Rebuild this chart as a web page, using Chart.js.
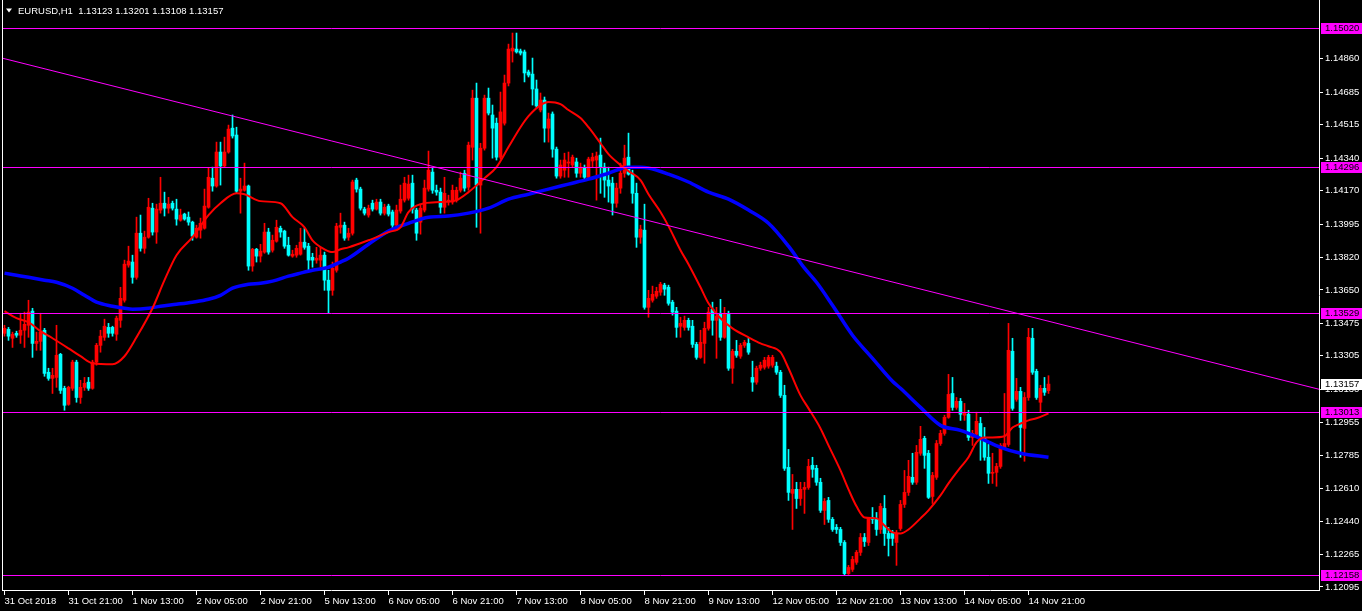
<!DOCTYPE html>
<html><head><meta charset="utf-8">
<script src="https://cdn.jsdelivr.net/npm/chart.js@4.4.1/dist/chart.umd.min.js"></script>
<style>html,body{margin:0;padding:0;background:#000;overflow:hidden}</style>
</head><body>
<canvas id="c" width="1362" height="611"></canvas>
<script>
const symbolTitle = 'EURUSD,H1';
const barOpen = [
1.13423,1.13444,1.13397,1.13423,1.13413,1.13439,1.13465,1.13539,1.13370,1.13381,
1.13439,1.13219,1.13187,1.13192,1.13313,1.13135,1.13051,1.13135,1.13272,1.13087,
1.13140,1.13167,1.13135,1.13272,1.13360,1.13402,1.13454,1.13454,1.13418,1.13491,
1.13596,1.13780,1.13796,1.13716,1.13947,1.13868,1.13926,1.14078,1.13953,1.14068,
1.14104,1.14078,1.14104,1.14073,1.14015,1.14047,1.14031,1.14005,1.13926,1.13963,
1.13973,1.14083,1.14235,1.14194,1.14372,1.14299,1.14372,1.14497,1.14461,1.14167,
1.14172,1.14194,1.13775,1.13863,1.13827,1.13848,1.13953,1.13858,1.13905,1.13973,
1.13958,1.13884,1.13827,1.13832,1.13837,1.13900,1.13879,1.13821,1.13806,1.13806,
1.13832,1.13701,1.13648,1.13753,1.13978,1.13989,1.13926,1.13947,1.14225,1.14178,
1.14073,1.14042,1.14104,1.14073,1.14110,1.14052,1.14089,1.14058,1.13989,1.14063,
1.14120,1.14130,1.14209,1.14068,1.14005,1.14068,1.14178,1.14267,1.14172,1.14162,
1.14083,1.14110,1.14110,1.14120,1.14172,1.14261,1.14188,1.14397,1.14654,1.14199,
1.14392,1.14654,1.14566,1.14523,1.14345,1.14523,1.14733,1.14901,1.14911,1.14901,
1.14896,1.14791,1.14780,1.14702,1.14592,1.14644,1.14497,1.14571,1.14387,1.14246,
1.14277,1.14314,1.14304,1.14320,1.14261,1.14288,1.14240,1.14325,1.14330,1.14356,
1.14293,1.14225,1.14209,1.14104,1.14183,1.14261,1.14345,1.14256,1.14156,1.13926,
1.13963,1.13559,1.13596,1.13617,1.13638,1.13675,1.13664,1.13586,1.13539,1.13460,
1.13454,1.13491,1.13460,1.13365,1.13297,1.13370,1.13449,1.13549,1.13491,1.13528,
1.13402,1.13528,1.13240,1.13329,1.13303,1.13360,1.13370,1.13192,1.13167,1.13240,
1.13245,1.13251,1.13256,1.13251,1.13219,1.13098,1.12721,1.12585,1.12606,1.12558,
1.12606,1.12616,1.12732,1.12716,1.12643,1.12496,1.12548,1.12449,1.12407,1.12396,
1.12328,1.12165,1.12187,1.12224,1.12276,1.12354,1.12328,1.12459,1.12449,1.12396,
1.12506,1.12375,1.12375,1.12328,1.12401,1.12527,1.12590,1.12669,1.12643,1.12795,
1.12873,1.12795,1.12569,1.12669,1.12846,1.12899,1.12983,1.13108,1.13035,1.13067,
1.12994,1.12999,1.12878,1.12894,1.12951,1.12878,1.12774,1.12690,1.12695,1.12726,
1.12825,1.12841,1.13329,1.13077,1.13119,1.12925,1.13087,1.13397,1.13224,1.13062,
1.13135,1.13123];
const barHigh = [
1.13465,1.13454,1.13429,1.13434,1.13528,1.13534,1.13596,1.13554,1.13429,1.13528,
1.13449,1.13240,1.13240,1.13465,1.13318,1.13146,1.13146,1.13282,1.13282,1.13177,
1.13192,1.13192,1.13282,1.13370,1.13439,1.13497,1.13475,1.13460,1.13513,1.13664,
1.13806,1.13879,1.13832,1.14031,1.14042,1.13958,1.14130,1.14104,1.14099,1.14240,
1.14162,1.14135,1.14115,1.14125,1.14073,1.14052,1.14058,1.14010,1.13989,1.14026,
1.14178,1.14288,1.14293,1.14424,1.14424,1.14450,1.14513,1.14566,1.14502,1.14235,
1.14314,1.14199,1.13868,1.13868,1.13889,1.13999,1.13973,1.13937,1.14015,1.13984,
1.13963,1.13926,1.13858,1.13884,1.13973,1.13973,1.13894,1.13842,1.13873,1.13873,
1.13848,1.13753,1.13796,1.13999,1.14052,1.14005,1.13973,1.14225,1.14235,1.14188,
1.14083,1.14094,1.14120,1.14125,1.14125,1.14099,1.14099,1.14068,1.14094,1.14199,
1.14240,1.14251,1.14251,1.14078,1.14099,1.14225,1.14377,1.14293,1.14199,1.14183,
1.14240,1.14146,1.14199,1.14188,1.14267,1.14277,1.14424,1.14696,1.14733,1.14418,
1.14670,1.14707,1.14618,1.14550,1.14686,1.14775,1.14937,1.14995,1.14995,1.14911,
1.14906,1.14801,1.14864,1.14749,1.14681,1.14660,1.14576,1.14582,1.14398,1.14330,
1.14366,1.14372,1.14356,1.14340,1.14314,1.14304,1.14345,1.14366,1.14372,1.14445,
1.14314,1.14293,1.14240,1.14209,1.14314,1.14408,1.14471,1.14277,1.14209,1.13989,
1.14099,1.13648,1.13670,1.13664,1.13690,1.13685,1.13675,1.13596,1.13559,1.13507,
1.13513,1.13502,1.13491,1.13376,1.13439,1.13481,1.13559,1.13586,1.13559,1.13601,
1.13559,1.13539,1.13339,1.13386,1.13370,1.13386,1.13397,1.13277,1.13251,1.13272,
1.13297,1.13308,1.13308,1.13272,1.13229,1.13151,1.12815,1.12684,1.12643,1.12643,
1.12643,1.12763,1.12774,1.12732,1.12664,1.12558,1.12564,1.12459,1.12422,1.12407,
1.12338,1.12208,1.12255,1.12286,1.12375,1.12375,1.12459,1.12511,1.12485,1.12532,
1.12574,1.12407,1.12391,1.12391,1.12548,1.12705,1.12758,1.12795,1.12836,1.12936,
1.12884,1.12810,1.12695,1.12862,1.12915,1.12994,1.13208,1.13192,1.13087,1.13082,
1.13056,1.13020,1.12915,1.13010,1.12983,1.12930,1.12841,1.12795,1.12742,1.12846,
1.13108,1.13475,1.13397,1.13187,1.13140,1.13113,1.13449,1.13449,1.13235,1.13151,
1.13192,1.13201];
const barLow = [
1.13408,1.13386,1.13349,1.13402,1.13370,1.13349,1.13402,1.13297,1.13334,1.13334,
1.13198,1.13177,1.13108,1.13140,1.13108,1.13020,1.13046,1.13124,1.13062,1.13056,
1.13124,1.13124,1.13130,1.13256,1.13324,1.13386,1.13402,1.13408,1.13386,1.13454,
1.13586,1.13769,1.13685,1.13706,1.13853,1.13842,1.13921,1.13937,1.13894,1.14052,
1.14037,1.14052,1.14068,1.13989,1.14010,1.14015,1.13989,1.13910,1.13921,1.13921,
1.13968,1.14078,1.14167,1.14188,1.14199,1.14293,1.14366,1.14445,1.14156,1.14052,
1.14167,1.13753,1.13748,1.13796,1.13796,1.13842,1.13837,1.13848,1.13900,1.13926,
1.13868,1.13827,1.13821,1.13821,1.13832,1.13863,1.13753,1.13769,1.13790,1.13769,
1.13648,1.13528,1.13622,1.13743,1.13947,1.13910,1.13910,1.13937,1.14162,1.14068,
1.14042,1.14031,1.14063,1.14068,1.14042,1.14042,1.14037,1.13973,1.13978,1.14052,
1.14110,1.14120,1.14052,1.13910,1.13942,1.14058,1.14167,1.14156,1.14146,1.14052,
1.14052,1.14094,1.14099,1.14110,1.14162,1.14167,1.14172,1.14330,1.13978,1.13947,
1.14382,1.14566,1.14340,1.14330,1.14335,1.14513,1.14718,1.14843,1.14890,1.14880,
1.14739,1.14765,1.14618,1.14602,1.14582,1.14424,1.14424,1.14345,1.14235,1.14235,
1.14240,1.14240,1.14293,1.14240,1.14240,1.14230,1.14230,1.14293,1.14120,1.14156,
1.14135,1.14110,1.14042,1.14083,1.14156,1.14240,1.14251,1.14104,1.13873,1.13894,
1.13549,1.13507,1.13586,1.13606,1.13622,1.13622,1.13570,1.13518,1.13402,1.13402,
1.13439,1.13439,1.13349,1.13287,1.13292,1.13266,1.13439,1.13413,1.13292,1.13386,
1.13397,1.13229,1.13161,1.13297,1.13292,1.13349,1.13313,1.13119,1.13156,1.13229,
1.13235,1.13240,1.13245,1.13208,1.13087,1.12705,1.12548,1.12396,1.12506,1.12522,
1.12480,1.12606,1.12669,1.12627,1.12485,1.12422,1.12433,1.12386,1.12375,1.12312,
1.12158,1.12160,1.12176,1.12213,1.12260,1.12307,1.12312,1.12427,1.12365,1.12375,
1.12312,1.12257,1.12312,1.12208,1.12391,1.12511,1.12574,1.12632,1.12632,1.12784,
1.12716,1.12558,1.12532,1.12658,1.12836,1.12889,1.12978,1.13020,1.13025,1.12967,
1.12967,1.12862,1.12836,1.12884,1.12758,1.12758,1.12637,1.12637,1.12622,1.12716,
1.12820,1.12831,1.13020,1.13067,1.12774,1.12753,1.13072,1.13208,1.13077,1.13010,
1.13098,1.13108];
const barClose = [
1.13449,1.13408,1.13418,1.13413,1.13439,1.13470,1.13534,1.13370,1.13381,1.13429,
1.13213,1.13187,1.13203,1.13308,1.13124,1.13046,1.13140,1.13272,1.13087,1.13140,
1.13161,1.13135,1.13272,1.13360,1.13408,1.13460,1.13423,1.13423,1.13502,1.13606,
1.13785,1.13801,1.13716,1.13947,1.13868,1.13926,1.14083,1.13953,1.14073,1.14104,
1.14078,1.14099,1.14078,1.14021,1.14042,1.14021,1.14005,1.13932,1.13973,1.13999,
1.14089,1.14240,1.14194,1.14372,1.14299,1.14372,1.14492,1.14456,1.14167,1.14178,
1.14194,1.13775,1.13863,1.13827,1.13853,1.13953,1.13848,1.13910,1.13978,1.13953,
1.13879,1.13832,1.13837,1.13868,1.13900,1.13873,1.13806,1.13806,1.13816,1.13832,
1.13701,1.13648,1.13764,1.13984,1.13989,1.13921,1.13947,1.14215,1.14178,1.14078,
1.14052,1.14078,1.14073,1.14110,1.14052,1.14083,1.14047,1.13989,1.14068,1.14125,
1.14209,1.14204,1.14073,1.13947,1.14078,1.14183,1.14277,1.14172,1.14162,1.14083,
1.14156,1.14120,1.14172,1.14172,1.14235,1.14183,1.14408,1.14654,1.14199,1.14392,
1.14654,1.14576,1.14497,1.14345,1.14582,1.14733,1.14911,1.14916,1.14896,1.14890,
1.14786,1.14775,1.14702,1.14613,1.14644,1.14497,1.14545,1.14387,1.14246,1.14304,
1.14330,1.14320,1.14345,1.14261,1.14293,1.14240,1.14335,1.14345,1.14351,1.14293,
1.14225,1.14194,1.14104,1.14183,1.14261,1.14340,1.14256,1.14156,1.13926,1.13968,
1.13559,1.13606,1.13627,1.13643,1.13680,1.13654,1.13580,1.13534,1.13454,1.13475,
1.13491,1.13454,1.13365,1.13297,1.13376,1.13449,1.13534,1.13491,1.13513,1.13402,
1.13523,1.13240,1.13329,1.13308,1.13360,1.13376,1.13324,1.13167,1.13240,1.13256,
1.13282,1.13297,1.13297,1.13219,1.13098,1.12716,1.12590,1.12606,1.12558,1.12606,
1.12616,1.12726,1.12711,1.12643,1.12496,1.12543,1.12449,1.12396,1.12396,1.12328,
1.12165,1.12197,1.12239,1.12276,1.12354,1.12333,1.12449,1.12449,1.12396,1.12517,
1.12375,1.12349,1.12349,1.12375,1.12527,1.12590,1.12674,1.12643,1.12800,1.12868,
1.12784,1.12564,1.12679,1.12846,1.12899,1.12983,1.13103,1.13035,1.13067,1.12999,
1.13004,1.12878,1.12899,1.12962,1.12878,1.12774,1.12690,1.12695,1.12726,1.12836,
1.12846,1.13334,1.13030,1.13119,1.12930,1.13087,1.13402,1.13219,1.13087,1.13135,
1.13114,1.13157];

const redMaBars = [0,3,6,9,12,16,19,22,27,30,33,37,40,43,47,51,54,58,60,64,69,72,75,77,80,82,84,86,91,96,99,101,105,109,113,116,120,123,126,129,131,134,136,139,141,144,146,149,151,154,156,159,161,164,166,169,171,174,176,179,182,186,189,191,194,196,199,201,204,206,209,211,213,215,218,220,222,224,226,229,231,234,236,239,241,243,245,247,250,251,252,253,256,258,261];
const redMaValues = [1.13539,1.13502,1.13481,1.13434,1.13397,1.13344,1.13303,1.13266,1.13261,1.13303,1.13402,1.13554,1.13701,1.13832,1.13926,1.14042,1.14104,1.14156,1.14151,1.14115,1.14104,1.14031,1.13978,1.13910,1.13863,1.13848,1.13863,1.13873,1.13910,1.13953,1.13978,1.14058,1.14104,1.14110,1.14120,1.14162,1.14235,1.14293,1.14398,1.14502,1.14560,1.14618,1.14634,1.14623,1.14592,1.14550,1.14502,1.14418,1.14361,1.14304,1.14272,1.14225,1.14151,1.14058,1.13984,1.13858,1.13785,1.13664,1.13580,1.13502,1.13449,1.13402,1.13370,1.13355,1.13324,1.13240,1.13098,1.13030,1.12925,1.12836,1.12705,1.12606,1.12517,1.12459,1.12454,1.12417,1.12381,1.12375,1.12396,1.12454,1.12496,1.12574,1.12637,1.12721,1.12774,1.12852,1.12878,1.12878,1.12884,1.12905,1.12930,1.12941,1.12967,1.12978,1.13004];
const blueMaBars = [0,3,6,10,13,17,20,23,27,30,32,36,39,43,47,51,54,57,61,64,67,71,74,77,81,84,86,91,96,101,106,111,116,121,126,131,136,141,146,151,156,159,161,166,171,176,181,186,191,196,200,203,207,212,217,222,224,229,234,239,244,249,254,261];
const blueMaValues = [1.13738,1.13727,1.13716,1.13701,1.13690,1.13659,1.13622,1.13586,1.13565,1.13554,1.13549,1.13554,1.13565,1.13575,1.13586,1.13601,1.13622,1.13659,1.13680,1.13685,1.13696,1.13722,1.13738,1.13753,1.13769,1.13796,1.13816,1.13889,1.13958,1.13999,1.14031,1.14037,1.14052,1.14078,1.14125,1.14151,1.14178,1.14204,1.14230,1.14261,1.14293,1.14293,1.14288,1.14256,1.14215,1.14162,1.14125,1.14068,1.13999,1.13879,1.13764,1.13690,1.13570,1.13413,1.13292,1.13172,1.13135,1.13035,1.12941,1.12915,1.12873,1.12826,1.12795,1.12774];

const levelPrices = [1.15020, 1.14296, 1.13529, 1.13013, 1.12158];
const trendBars = [-0.625, 328.625];
const trendPrices = [1.14864, 1.13130];
const priceTicks = [1.14860,1.14685,1.14515,1.14340,1.14170,1.13995,1.13820,1.13650,1.13475,1.13305,1.13130,1.12955,1.12785,1.12610,1.12440,1.12265,1.12095];
const timeTickBars = [0,16,32,48,64,80,96,112,128,144,160,176,192,208,224,240,256];
const timeTickLabels = ['31 Oct 2018','31 Oct 21:00','1 Nov 13:00','2 Nov 05:00','2 Nov 21:00','5 Nov 13:00','6 Nov 05:00','6 Nov 21:00','7 Nov 13:00','8 Nov 05:00','8 Nov 21:00','9 Nov 13:00','12 Nov 05:00','12 Nov 21:00','13 Nov 13:00','14 Nov 05:00','14 Nov 21:00'];

const BULL = '#ff0000', BEAR = '#00ffff';
const FONT = '"Liberation Sans", Arial, sans-serif';
const candleColors = barOpen.map((o, i) => barClose[i] >= o ? BULL : BEAR);
const last = barOpen.length - 1;

const extras = {
  id: 'extras',
  beforeDraw(chart) {
    const c = chart.ctx; c.save(); c.fillStyle = '#000'; c.fillRect(0, 0, chart.width, chart.height); c.restore();
  },
  afterDatasetsDraw(chart) {
    const { ctx, chartArea: a, scales: { y } } = chart;
    ctx.save();
    ctx.strokeStyle = '#ff00ff'; ctx.lineWidth = 1;
    levelPrices.forEach(p => {
      const py = Math.round(y.getPixelForValue(p)) + 0.5;
      ctx.beginPath(); ctx.moveTo(a.left, py); ctx.lineTo(a.right, py); ctx.stroke();
    });
    ctx.restore();
  },
  afterDraw(chart) {
    const { ctx, chartArea: a, scales: { y } } = chart;
    ctx.save();
    ctx.strokeStyle = '#ffffff'; ctx.lineWidth = 1;
    ctx.beginPath(); ctx.moveTo(a.left + 0.5, a.top); ctx.lineTo(a.left + 0.5, a.bottom); ctx.stroke();
    ctx.font = '9.5px ' + FONT; ctx.textBaseline = 'middle'; ctx.textAlign = 'left';
    levelPrices.forEach(p => {
      const py = Math.round(y.getPixelForValue(p));
      ctx.fillStyle = '#ff00ff'; ctx.fillRect(a.right + 2, py - 5, chart.width - a.right - 2, 11);
      ctx.fillStyle = '#000000'; ctx.fillText(p.toFixed(5), a.right + 6, py + 0.5);
    });
    const lp = Math.round(y.getPixelForValue(barClose[last]));
    ctx.fillStyle = '#ffffff'; ctx.fillRect(a.right + 2, lp - 5, chart.width - a.right - 2, 11);
    ctx.fillStyle = '#000000'; ctx.fillText(barClose[last].toFixed(5), a.right + 6, lp + 0.5);
    // header
    ctx.fillStyle = '#ffffff';
    ctx.beginPath(); ctx.moveTo(6, 8.5); ctx.lineTo(12, 8.5); ctx.lineTo(9, 12.5); ctx.closePath(); ctx.fill();
    const head = symbolTitle + '  ' + [barOpen[last], barHigh[last], barLow[last], barClose[last]].map(v => v.toFixed(5)).join(' ');
    ctx.fillText(head, 18, 11);
    ctx.restore();
  }
};

new Chart(document.getElementById('c'), {
  type: 'bar',
  data: {
    datasets: [
      { type: 'bar', data: barOpen.map((_, i) => ({ x: i, y: [barLow[i], barHigh[i]] })), backgroundColor: candleColors,
        grouped: false, barPercentage: 1, categoryPercentage: 1, maxBarThickness: 1, minBarLength: 1, borderWidth: 0, order: 6 },
      { type: 'bar', data: barOpen.map((o, i) => ({ x: i, y: [o, barClose[i]] })), backgroundColor: candleColors,
        grouped: false, barPercentage: 1, categoryPercentage: 1, maxBarThickness: 3, minBarLength: 1, borderWidth: 0, order: 5 },
      { type: 'line', data: blueMaBars.map((b, k) => ({ x: b, y: blueMaValues[k] })), borderColor: '#0000ff', borderWidth: 3.5,
        pointRadius: 0, cubicInterpolationMode: 'monotone', order: 4 },
      { type: 'line', data: redMaBars.map((b, k) => ({ x: b, y: redMaValues[k] })), borderColor: '#ff0000', borderWidth: 2,
        pointRadius: 0, cubicInterpolationMode: 'monotone', order: 3 },
      { type: 'line', data: trendBars.map((b, k) => ({ x: b, y: trendPrices[k] })), borderColor: '#ff00ff', borderWidth: 1,
        pointRadius: 0, order: 1 }
    ]
  },
  options: {
    responsive: false, animation: false, devicePixelRatio: 1, events: [],
    layout: { padding: { left: 2, top: 0, right: 0, bottom: 0 } },
    plugins: { legend: { display: false }, tooltip: { enabled: false } },
    scales: {
      x: {
        type: 'linear', position: 'bottom', min: -0.625, max: 328.625, offset: false,
        afterBuildTicks: s => { s.ticks = timeTickBars.map(v => ({ value: v })); },
        afterFit: s => { s.height = 21; s.paddingLeft = 0; s.paddingRight = 0; },
        ticks: { color: '#ffffff', font: { family: FONT, size: 9.5 }, align: 'start', maxRotation: 0, autoSkip: false, padding: 1,
          callback: (v, idx) => timeTickLabels[idx] },
        grid: { drawOnChartArea: false, color: '#ffffff', tickLength: 5, offset: false },
        border: { color: '#ffffff', width: 1 }
      },
      y: {
        type: 'linear', position: 'right', min: 1.12079, max: 1.15168,
        afterBuildTicks: s => { s.ticks = priceTicks.map(v => ({ value: v })); },
        afterFit: s => { s.width = 43; s.paddingTop = 0; s.paddingBottom = 0; },
        ticks: { color: '#ffffff', font: { family: FONT, size: 9.5 }, padding: 2, autoSkip: false,
          callback: v => Number(v).toFixed(5) },
        grid: { drawOnChartArea: false, color: '#ffffff', tickLength: 4 },
        border: { color: '#ffffff', width: 1 }
      }
    }
  },
  plugins: [extras]
});
</script>
</body></html>
